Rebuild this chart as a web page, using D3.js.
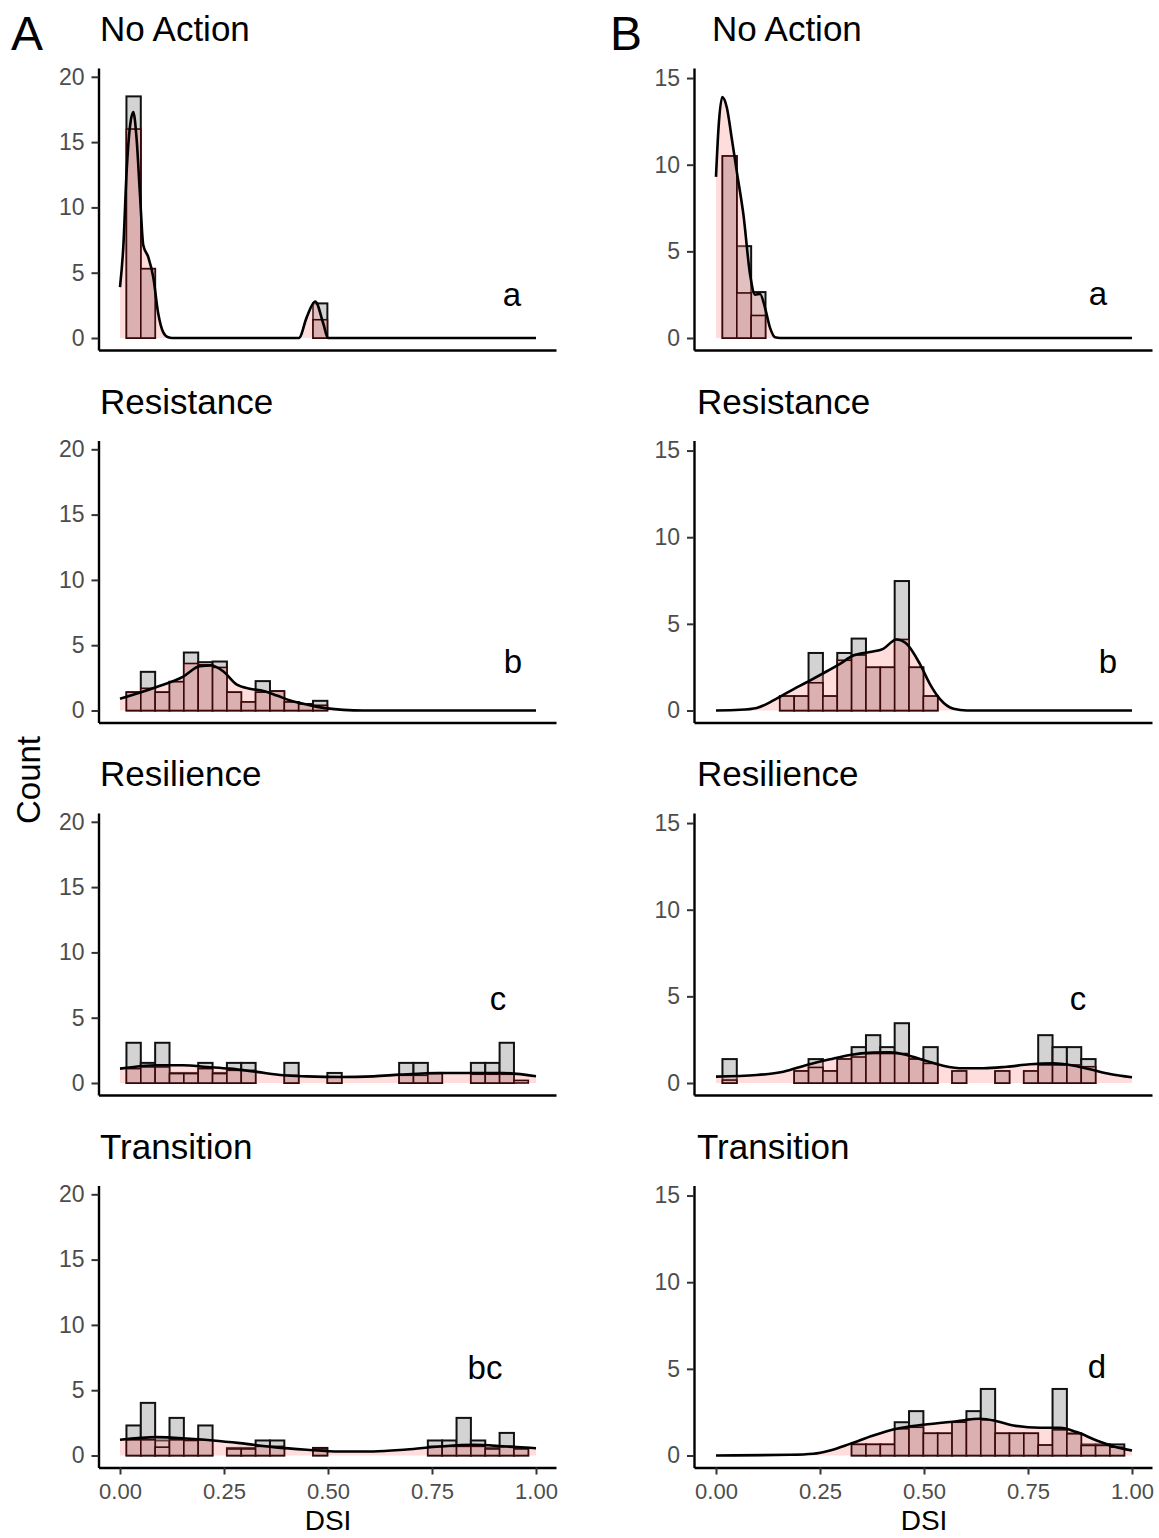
<!DOCTYPE html>
<html>
<head>
<meta charset="utf-8">
<script src="https://cdn.jsdelivr.net/npm/d3@7"></script>
<style>
  body { margin: 0; background: #fff; }
  svg { display: block; font-family: "Liberation Sans", Arial, Helvetica, sans-serif; }
</style>
</head>
<body>
<div id="chart"></div>
<script>
// ---- data ----------------------------------------------------------------
const panelTitles = ['No Action', 'Resistance', 'Resilience', 'Transition'];
const columnTags = ['A', 'B'];
const groupLettersA = ['a', 'b', 'c', 'bc'];
const groupLettersB = ['a', 'b', 'c', 'd'];
const yTicksA = [0, 5, 10, 15, 20];
const yTicksB = [0, 5, 10, 15];
const xTicks = [0, 0.25, 0.5, 0.75, 1];
const xTickLabels = ['0.00', '0.25', '0.50', '0.75', '1.00'];

// 28 bins of DSI
const binStart = 0.0155;
const binWidth = 0.0345;

// column A (grey = count histogram, red = overlaid histogram)
const greyA1 = [18.5, 5.3, 0, 0, 0, 0, 0, 0, 0, 0, 0, 0, 0, 2.65, 0, 0, 0, 0, 0, 0, 0, 0, 0, 0, 0, 0, 0, 0];
const redA1  = [16, 5.3, 0, 0, 0, 0, 0, 0, 0, 0, 0, 0, 0, 1.4, 0, 0, 0, 0, 0, 0, 0, 0, 0, 0, 0, 0, 0, 0];
const greyA2 = [1.4, 2.96, 1.4, 2.2, 4.44, 3.7, 3.75, 1.4, 0.65, 2.25, 1.48, 0.65, 0.5, 0.74, 0, 0, 0, 0, 0, 0, 0, 0, 0, 0, 0, 0, 0, 0];
const redA2  = [1.4, 1.7, 1.4, 2.2, 3.6, 3.5, 3.3, 1.4, 0.65, 1.4, 1.48, 0.65, 0.5, 0.4, 0, 0, 0, 0, 0, 0, 0, 0, 0, 0, 0, 0, 0, 0];
const greyA3 = [3.08, 1.54, 3.08, 0.77, 0.77, 1.54, 0.77, 1.54, 1.54, 0, 0, 1.54, 0, 0, 0.77, 0, 0, 0, 0, 1.54, 1.54, 0.77, 0, 0, 1.54, 1.54, 3.08, 0];
const redA3  = [1.1, 1.23, 1.23, 0.72, 0.72, 1.1, 0.72, 0.97, 0.97, 0, 0, 0.59, 0, 0, 0.46, 0, 0, 0, 0, 0.59, 0.59, 0.72, 0, 0, 0.67, 0.67, 0.67, 0.2];
const greyA4 = [2.3, 4.03, 1.15, 2.88, 1.15, 2.3, 0, 0.58, 0.58, 1.15, 1.15, 0, 0, 0.58, 0, 0, 0, 0, 0, 0, 0, 1.15, 1.15, 2.88, 1.15, 0.58, 1.73, 0.58];
const redA4  = [1.2, 1.2, 0.64, 1.2, 1.15, 1.2, 0, 0.5, 0.5, 0.7, 0.7, 0, 0, 0.5, 0, 0, 0, 0, 0, 0, 0, 0.7, 0.7, 0.7, 0.7, 0.5, 0.7, 0.5];

// column B
const greyB1 = [10.5, 5.3, 2.65, 0, 0, 0, 0, 0, 0, 0, 0, 0, 0, 0, 0, 0, 0, 0, 0, 0, 0, 0, 0, 0, 0, 0, 0, 0];
const redB1  = [10.5, 2.6, 1.3, 0, 0, 0, 0, 0, 0, 0, 0, 0, 0, 0, 0, 0, 0, 0, 0, 0, 0, 0, 0, 0, 0, 0, 0, 0];
const greyB2 = [0, 0, 0, 0, 0.83, 0.83, 3.32, 0.83, 3.32, 4.15, 2.49, 2.49, 7.47, 2.49, 0.83, 0, 0, 0, 0, 0, 0, 0, 0, 0, 0, 0, 0, 0];
const redB2  = [0, 0, 0, 0, 0.83, 0.83, 1.6, 0.83, 2.9, 3.2, 2.49, 2.49, 4.1, 2.49, 0.83, 0, 0, 0, 0, 0, 0, 0, 0, 0, 0, 0, 0, 0];
const greyB3 = [1.38, 0, 0, 0, 0, 0.69, 1.38, 0.69, 1.38, 2.07, 2.76, 2.07, 3.45, 1.38, 2.07, 0, 0.69, 0, 0, 0.69, 0, 0.69, 2.76, 2.07, 2.07, 1.38, 0, 0];
const redB3  = [0.17, 0, 0, 0, 0, 0.69, 0.9, 0.69, 1.38, 1.5, 1.7, 1.7, 1.7, 1.38, 1.13, 0, 0.69, 0, 0, 0.69, 0, 0.69, 1.04, 1.04, 1.04, 0.94, 0, 0];
const greyB4 = [0, 0, 0, 0, 0, 0, 0, 0, 0, 0.64, 0.64, 0.64, 1.92, 2.56, 1.28, 1.28, 1.92, 2.56, 3.84, 1.28, 1.28, 1.28, 0.6, 3.84, 1.28, 0.64, 0.64, 0.64];
const redB4  = [0, 0, 0, 0, 0, 0, 0, 0, 0, 0.64, 0.64, 0.64, 1.54, 1.63, 1.28, 1.28, 1.92, 2.1, 2.06, 1.28, 1.28, 1.28, 0.6, 1.48, 1.25, 0.58, 0.58, 0.48];

// density curves, [DSI, value]
const densA1 = [[0, 3.9], [0.008, 7.0], [0.016, 12.8], [0.024, 16.2], [0.032, 17.3], [0.04, 15.2], [0.048, 11.0], [0.056, 7.1], [0.068, 6.2],
  [0.08, 4.65], [0.092, 1.85], [0.104, 0.43], [0.116, 0.05], [0.125, 0], [0.43, 0], [0.449, 1.6], [0.469, 2.8], [0.489, 1.07], [0.5, 0], [1, 0]];
const densA2 = [[0, 0.9], [0.088, 1.8], [0.152, 2.6], [0.192, 3.4], [0.22, 3.45], [0.248, 3.0], [0.28, 2.0], [0.312, 1.67], [0.345, 1.49],
  [0.377, 1.15], [0.409, 0.77], [0.449, 0.46], [0.489, 0.2], [0.537, 0.05], [0.585, 0], [1, 0]];
const densA3 = [[0, 1.1], [0.088, 1.36], [0.152, 1.36], [0.208, 1.23], [0.264, 1.1], [0.329, 0.85], [0.393, 0.59], [0.449, 0.51], [0.529, 0.46],
  [0.609, 0.51], [0.673, 0.64], [0.769, 0.77], [0.849, 0.77], [0.921, 0.77], [1, 0.51]];
const densA4 = [[0, 1.2], [0.088, 1.41], [0.168, 1.28], [0.224, 1.15], [0.288, 0.95], [0.369, 0.64], [0.449, 0.44], [0.529, 0.31], [0.609, 0.31],
  [0.689, 0.46], [0.769, 0.69], [0.849, 0.82], [0.929, 0.69], [1, 0.56]];
const densB1 = [[0, 9.3], [0.006, 12.1], [0.015, 13.9], [0.026, 13.3], [0.038, 11.5], [0.05, 9.6], [0.066, 7.1], [0.082, 3.65], [0.094, 2.5],
  [0.106, 2.54], [0.118, 1.73], [0.13, 0.58], [0.142, 0.04], [0.154, 0], [1, 0]];
const densB2 = [[0, 0], [0.058, 0.04], [0.098, 0.15], [0.138, 0.58], [0.178, 1.12], [0.218, 1.63], [0.258, 2.15], [0.298, 2.69], [0.33, 3.17],
  [0.37, 3.37], [0.402, 3.56], [0.434, 4.1], [0.458, 3.85], [0.49, 2.69], [0.514, 1.54], [0.538, 0.67], [0.571, 0.1], [0.603, 0], [1, 0]];
const densB3 = [[0, 0.37], [0.098, 0.46], [0.162, 0.65], [0.218, 1.04], [0.274, 1.37], [0.322, 1.62], [0.378, 1.75], [0.418, 1.77], [0.458, 1.62],
  [0.498, 1.33], [0.546, 1.0], [0.595, 0.85], [0.643, 0.85], [0.699, 0.94], [0.755, 1.08], [0.811, 1.13], [0.851, 1.04], [0.899, 0.79],
  [0.947, 0.52], [1, 0.33]];
const densB4 = [[0, 0], [0.178, 0.04], [0.234, 0.1], [0.274, 0.29], [0.322, 0.67], [0.378, 1.15], [0.434, 1.54], [0.498, 1.77], [0.579, 1.98],
  [0.635, 2.12], [0.675, 1.98], [0.715, 1.73], [0.779, 1.6], [0.827, 1.6], [0.867, 1.35], [0.915, 0.87], [0.963, 0.48], [1, 0.29]];

// ---- layout ---------------------------------------------------------------
const W = 1159, H = 1538;
const rowZero = [338, 710.5, 1083, 1455.5];
const PLOT_TOP = 270;      // px above zero
const PLOT_BOTTOM = 12;    // px below zero (x axis line)

const COLS = [
  { tag: 'A', tagX: 11, axisX: 98.5, axisEnd: 556, zeroX: 120, oneX: 536, pxPerUnit: 13.06,
    yTicks: yTicksA, letters: groupLettersA,
    grey: [greyA1, greyA2, greyA3, greyA4], red: [redA1, redA2, redA3, redA4], dens: [densA1, densA2, densA3, densA4],
    titleX: [100, 100, 100, 100], letterX: [512, 513, 498, 485], letterDy: [32, 37.5, 73, 76.5] },
  { tag: 'B', tagX: 610, axisX: 694, axisEnd: 1152, zeroX: 716, oneX: 1132, pxPerUnit: 17.33,
    yTicks: yTicksB, letters: groupLettersB,
    grey: [greyB1, greyB2, greyB3, greyB4], red: [redB1, redB2, redB3, redB4], dens: [densB1, densB2, densB3, densB4],
    titleX: [712, 697, 697, 697], letterX: [1098, 1108, 1078, 1097], letterDy: [33, 37.5, 73, 77.5] }
];

const COLORS = {
  grey: '#d3d3d3',
  greyStroke: '#111',
  red: '#dbb0b0',
  redStroke: '#3a0808',
  densFill: '#ff9e9e',
  tickText: '#4d4d4d'
};

const svg = d3.select('#chart').append('svg')
  .attr('width', W)
  .attr('height', H);

svg.append('rect').attr('width', W).attr('height', H).attr('fill', '#fff');

COLS.forEach(col => {
  const unitX = col.oneX - col.zeroX;
  const x = d3.scaleLinear()
    .domain([(col.axisX - col.zeroX) / unitX, (col.axisEnd - col.zeroX) / unitX])
    .range([col.axisX, col.axisEnd]);

  // column tag
  svg.append('text')
    .attr('x', col.tagX).attr('y', 50)
    .style('font-size', '48px')
    .text(col.tag);

  panelTitles.forEach((title, r) => {
    const zero = rowZero[r];
    const y = d3.scaleLinear()
      .domain([-PLOT_BOTTOM / col.pxPerUnit, PLOT_TOP / col.pxPerUnit])
      .range([zero + PLOT_BOTTOM, zero - PLOT_TOP]);

    const g = svg.append('g').attr('class', 'panel');

    // title
    svg.append('text')
      .attr('x', col.titleX[r]).attr('y', zero - 297)
      .style('font-size', '35px')
      .text(title);

    const bins = col.grey[r].map((v, i) => ({
      x0: binStart + i * binWidth,
      x1: binStart + (i + 1) * binWidth,
      grey: v,
      red: col.red[r][i]
    }));

    // grey count bars
    g.selectAll('.grey-bar')
      .data(bins)
      .enter().append('rect')
      .attr('class', 'grey-bar')
      .attr('x', d => x(d.x0))
      .attr('width', d => x(d.x1) - x(d.x0))
      .attr('y', d => y(d.grey))
      .attr('height', d => y(0) - y(d.grey))
      .attr('fill', COLORS.grey)
      .attr('stroke', COLORS.greyStroke)
      .attr('stroke-width', 2);

    // density fill
    const area = d3.area()
      .x(d => x(d[0]))
      .y0(y(0))
      .y1(d => y(d[1]))
      .curve(d3.curveMonotoneX);

    g.append('path')
      .datum(col.dens[r])
      .attr('d', area)
      .attr('fill', COLORS.densFill)
      .attr('fill-opacity', 0.35);

    // red overlaid bars
    g.selectAll('.red-bar')
      .data(bins)
      .enter().append('rect')
      .attr('class', 'red-bar')
      .attr('x', d => x(d.x0))
      .attr('width', d => x(d.x1) - x(d.x0))
      .attr('y', d => y(d.red))
      .attr('height', d => y(0) - y(d.red))
      .attr('fill', COLORS.red)
      .attr('stroke', COLORS.redStroke)
      .attr('stroke-width', 1.6);

    // density line
    const line = d3.line()
      .x(d => x(d[0]))
      .y(d => y(d[1]))
      .curve(d3.curveMonotoneX);

    g.append('path')
      .datum(col.dens[r])
      .attr('d', line)
      .attr('fill', 'none')
      .attr('stroke', '#000')
      .attr('stroke-width', 2.6);

    // group letter
    svg.append('text')
      .attr('x', col.letterX[r]).attr('y', zero - col.letterDy[r])
      .attr('text-anchor', 'middle')
      .style('font-size', '33px')
      .text(col.letters[r]);

    // y axis
    const yAxis = svg.append('g')
      .attr('transform', `translate(${col.axisX},0)`)
      .call(d3.axisLeft(y).tickValues(col.yTicks).tickSize(7).tickSizeOuter(0).tickPadding(7));

    // x axis
    const isBottom = r === panelTitles.length - 1;
    const xAxis = svg.append('g')
      .attr('transform', `translate(0,${zero + PLOT_BOTTOM})`)
      .call(d3.axisBottom(x)
        .tickValues(isBottom ? xTicks : [])
        .tickFormat((d, i) => xTickLabels[i])
        .tickSize(7).tickSizeOuter(0).tickPadding(9));

    [yAxis, xAxis].forEach(ax => {
      ax.select('.domain').attr('stroke', '#000').attr('stroke-width', 2.4);
      ax.selectAll('.tick line').attr('stroke', '#333').attr('stroke-width', 2);
      ax.selectAll('.tick text')
        .attr('fill', COLORS.tickText)
        .style('font-size', '22px')
        .style('font-family', '"Liberation Sans", Arial, sans-serif');
    });
    yAxis.selectAll('.tick text').style('font-size', '23px');
  });

  // x axis title
  svg.append('text')
    .attr('x', (col.zeroX + col.oneX) / 2).attr('y', 1530)
    .attr('text-anchor', 'middle')
    .style('font-size', '28px')
    .text('DSI');
});

// y axis title
svg.append('text')
  .attr('transform', 'translate(40,780) rotate(-90)')
  .attr('text-anchor', 'middle')
  .style('font-size', '33px')
  .text('Count');
</script>
</body>
</html>
